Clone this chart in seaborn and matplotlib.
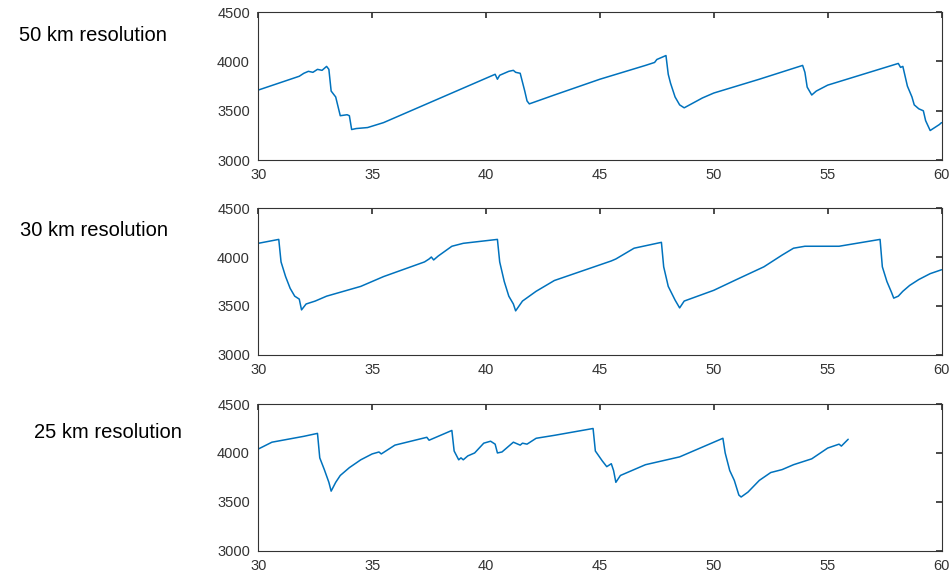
import matplotlib
matplotlib.use("Agg")
import matplotlib.pyplot as plt
import seaborn as sns
import pandas as pd

x50 = [30,31.8,32,32.2,32.4,32.6,32.8,33.0,33.1,33.2,33.4,33.6,33.9,34.0,34.1,34.3,34.8,35.5,37,38.5,40.4,40.5,40.6,41.0,41.2,41.3,41.5,41.7,41.8,41.9,43,45,47,47.4,47.5,47.7,47.9,48.0,48.1,48.3,48.5,48.7,49.5,50,52,53.9,54.0,54.1,54.3,54.5,55,58.1,58.2,58.3,58.5,58.7,58.8,59.0,59.2,59.3,59.5,59.7,59.9,60]
y50 = [3710,3850,3880,3900,3890,3920,3910,3950,3920,3700,3640,3450,3460,3450,3310,3320,3330,3380,3530,3680,3870,3820,3860,3900,3910,3890,3880,3700,3600,3570,3660,3820,3960,3990,4020,4040,4060,3870,3780,3640,3560,3530,3630,3680,3820,3960,3890,3740,3660,3700,3760,3980,3940,3950,3750,3640,3560,3520,3500,3400,3300,3330,3360,3380]

x30 = [30,30.9,31.0,31.2,31.4,31.6,31.8,31.9,32.1,32.5,33,34.5,35.5,37.3,37.5,37.6,37.7,37.9,38.5,39,40.5,40.6,40.8,41.0,41.2,41.3,41.6,42.2,43,43.5,45.5,45.7,46.5,47.7,47.8,48.0,48.3,48.5,48.7,50,51,52.2,53,53.5,54,55.5,57.3,57.4,57.6,57.8,57.9,58.1,58.3,58.6,59,59.5,60]
y30 = [4140,4180,3950,3800,3680,3600,3570,3460,3520,3550,3600,3700,3800,3950,3980,4000,3970,4010,4110,4140,4180,3950,3750,3600,3520,3450,3550,3650,3760,3800,3960,3980,4090,4150,3900,3700,3560,3480,3550,3660,3770,3900,4020,4090,4110,4110,4180,3900,3750,3640,3580,3600,3650,3710,3770,3830,3870]

x25 = [30,30.6,32,32.6,32.7,32.9,33.1,33.2,33.4,33.6,34,34.5,35,35.3,35.4,36,37.4,37.5,38.5,38.6,38.8,38.9,39.0,39.2,39.5,39.9,40.2,40.4,40.5,40.7,41.1,41.2,41.5,41.6,41.8,42.2,43,44.7,44.8,45.1,45.3,45.5,45.6,45.7,45.9,46.2,47,48.5,50.3,50.4,50.5,50.7,50.9,51.1,51.2,51.5,52,52.5,53,53.5,54.3,55,55.5,55.6,55.9]
y25 = [4040,4110,4170,4200,3950,3830,3700,3610,3700,3770,3850,3930,3990,4010,3990,4080,4160,4130,4230,4020,3930,3950,3930,3970,4000,4100,4120,4090,4000,4010,4090,4110,4080,4100,4090,4150,4180,4250,4020,3920,3860,3890,3820,3700,3770,3800,3880,3960,4140,4150,4000,3820,3720,3570,3550,3600,3720,3800,3830,3880,3940,4050,4090,4070,4140]

labels = ["50 km resolution", "30 km resolution", "25 km resolution"]
label_x = [0.097, 0.099, 0.113]
label_y = [0.939, 0.602, 0.251]
series = [(x50, y50), (x30, y30), (x25, y25)]

sns.set_theme(style="white")
plt.rcParams['font.family'] = ['Liberation Sans', 'DejaVu Sans']
fig = plt.figure(figsize=(9.53, 5.78), dpi=100)
boxes = [(0.723, 0.979), (0.386, 0.640), (0.047, 0.301)]
for (b, t), lab, lx, ly, (xs, ys) in zip(boxes, labels, label_x, label_y, series):
    ax = fig.add_axes([0.271, b, 0.717, t - b])
    df = pd.DataFrame({"x": xs, "y": ys})
    sns.lineplot(data=df, x="x", y="y", ax=ax, color="#0072BD", linewidth=1.1, estimator=None, sort=False)
    ax.set_xlim(30, 60)
    ax.set_ylim(3000, 4500)
    ax.set_xticks([30, 35, 40, 45, 50, 55, 60])
    ax.set_yticks([3000, 3500, 4000, 4500])
    ax.set_xlabel("")
    ax.set_ylabel("")
    ax.tick_params(direction="in", length=4, top=True, right=True, labelsize=10.5,
                   color="#333333", labelcolor="#333333", pad=6)
    for s in ax.spines.values():
        s.set_color("#333333")
        s.set_linewidth(0.8)
    fig.text(lx, ly, lab, ha="center", va="center", fontsize=14.5, color="black")
fig.savefig("out.png", dpi=100)
